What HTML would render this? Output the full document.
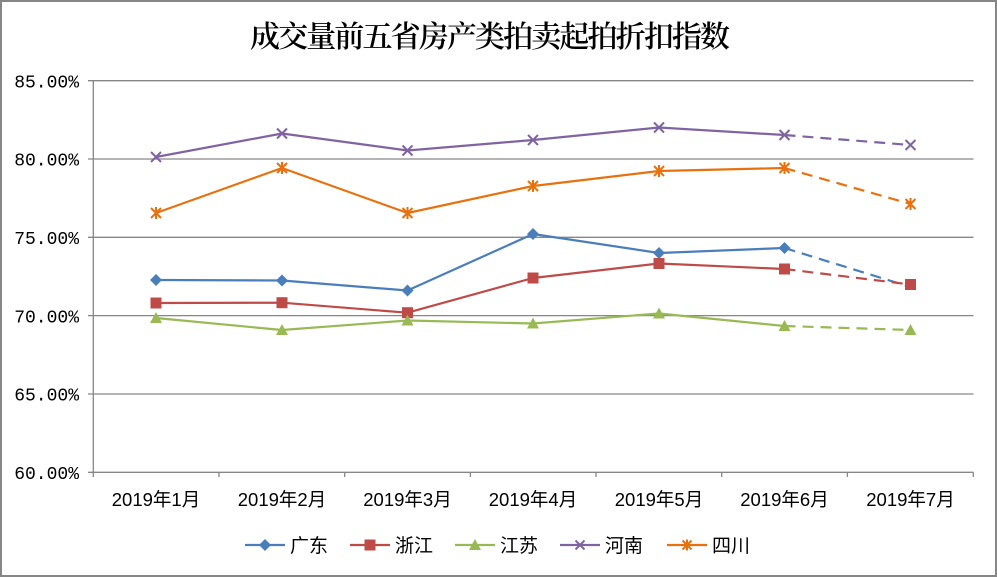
<!DOCTYPE html>
<html><head><meta charset="utf-8"><style>
html,body{margin:0;padding:0;background:#fff;}
svg{display:block;}
</style></head><body>
<svg width="997" height="577" viewBox="0 0 997 577" xmlns="http://www.w3.org/2000/svg">
<rect x="1" y="1" width="995" height="575" fill="#fff" stroke="#868686" stroke-width="2"/>
<text x="490" y="47" text-anchor="middle" font-family="'Liberation Serif','Noto Serif CJK SC',serif" font-weight="600" font-size="30" textLength="480" lengthAdjust="spacing" fill="#000">成交量前五省房产类拍卖起拍折扣指数</text>
<g stroke="#868686" stroke-width="1.3" fill="none">
<line x1="88" y1="80.7" x2="973.5" y2="80.7"/>
<line x1="88" y1="159" x2="973.5" y2="159"/>
<line x1="88" y1="237.3" x2="973.5" y2="237.3"/>
<line x1="88" y1="315.6" x2="973.5" y2="315.6"/>
<line x1="88" y1="394" x2="973.5" y2="394"/>
<line x1="88" y1="472.3" x2="973.5" y2="472.3"/>
<line x1="93.3" y1="80.7" x2="93.3" y2="477"/>
<line x1="219" y1="472.3" x2="219" y2="477"/>
<line x1="344.7" y1="472.3" x2="344.7" y2="477"/>
<line x1="470.4" y1="472.3" x2="470.4" y2="477"/>
<line x1="596" y1="472.3" x2="596" y2="477"/>
<line x1="721.7" y1="472.3" x2="721.7" y2="477"/>
<line x1="847.4" y1="472.3" x2="847.4" y2="477"/>
<line x1="973.3" y1="472.3" x2="973.3" y2="477"/>
</g>
<g font-family="'Liberation Mono',monospace" font-size="18" fill="#000" text-anchor="end">
<text x="79" y="87.5">85.00%</text>
<text x="79" y="165.5">80.00%</text>
<text x="79" y="244">75.00%</text>
<text x="79" y="322.5">70.00%</text>
<text x="79" y="400.5">65.00%</text>
<text x="79" y="479">60.00%</text>
</g>
<g font-family="'Liberation Sans','Noto Sans CJK SC',sans-serif" font-size="18.5" fill="#000" text-anchor="middle">
<text x="156" y="506">2019年1月</text>
<text x="282" y="506">2019年2月</text>
<text x="407.5" y="506">2019年3月</text>
<text x="533" y="506">2019年4月</text>
<text x="659" y="506">2019年5月</text>
<text x="784.5" y="506">2019年6月</text>
<text x="910.5" y="506">2019年7月</text>
</g>
<g fill="none" stroke-width="2.2" stroke-linejoin="round">
<polyline stroke="#8064A2" points="156,157 282,133.5 407.5,150.5 533,140 659,127.5 784.5,135"/>
<line stroke="#8064A2" x1="784.5" y1="135" x2="910.5" y2="145" stroke-dasharray="11 7"/>
<polyline stroke="#E8710E" points="156,213 282,168 407.5,213 533,186 659,171 784.5,168"/>
<line stroke="#E8710E" x1="784.5" y1="168" x2="910.5" y2="204" stroke-dasharray="11 7"/>
<polyline stroke="#4A7EBB" points="156,280 282,280.5 407.5,290.5 533,234 659,253 784.5,248"/>
<line stroke="#4A7EBB" x1="784.5" y1="248" x2="910.5" y2="287" stroke-dasharray="11 7"/>
<polyline stroke="#BE4B48" points="156,303 282,302.7 407.5,312.7 533,278 659,263.5 784.5,269"/>
<line stroke="#BE4B48" x1="784.5" y1="269" x2="910.5" y2="284.5" stroke-dasharray="11 7"/>
<polyline stroke="#98B954" points="156,318 282,330 407.5,320.5 533,323.5 659,313.5 784.5,326"/>
<line stroke="#98B954" x1="784.5" y1="326" x2="910.5" y2="330" stroke-dasharray="11 7"/>
</g>
<g stroke="#8064A2" stroke-width="2">
<path d="M151,152l10,10M161,152l-10,10 M277,128.5l10,10M287,128.5l-10,10 M402.5,145.5l10,10M412.5,145.5l-10,10 M528,135l10,10M538,135l-10,10 M654,122.5l10,10M664,122.5l-10,10 M779.5,130l10,10M789.5,130l-10,10 M905.5,140l10,10M915.5,140l-10,10"/>
</g>
<g stroke="#E8710E" stroke-width="2">
<path d="M151,208l10,10M161,208l-10,10M156,207v12 M277,163l10,10M287,163l-10,10M282,162v12 M402.5,208l10,10M412.5,208l-10,10M407.5,207v12 M528,181l10,10M538,181l-10,10M533,180v12 M654,166l10,10M664,166l-10,10M659,165v12 M779.5,163l10,10M789.5,163l-10,10M784.5,162v12 M905.5,199l10,10M915.5,199l-10,10M910.5,198v12"/>
</g>
<g fill="#4A7EBB">
<path d="M156,274l6,6l-6,6l-6,-6z"/>
<path d="M282,274.5l6,6l-6,6l-6,-6z"/>
<path d="M407.5,284.5l6,6l-6,6l-6,-6z"/>
<path d="M533,228l6,6l-6,6l-6,-6z"/>
<path d="M659,247l6,6l-6,6l-6,-6z"/>
<path d="M784.5,242l6,6l-6,6l-6,-6z"/>
</g>
<g fill="#BE4B48">
<rect x="150.5" y="297.5" width="11" height="11"/>
<rect x="276.5" y="297.2" width="11" height="11"/>
<rect x="402" y="307.2" width="11" height="11"/>
<rect x="527.5" y="272.5" width="11" height="11"/>
<rect x="653.5" y="258" width="11" height="11"/>
<rect x="779" y="263.5" width="11" height="11"/>
<rect x="905" y="279" width="11" height="11"/>
</g>
<g fill="#98B954">
<path d="M156,312l6,11h-12z"/>
<path d="M282,324l6,11h-12z"/>
<path d="M407.5,314.5l6,11h-12z"/>
<path d="M533,317.5l6,11h-12z"/>
<path d="M659,307.5l6,11h-12z"/>
<path d="M784.5,320l6,11h-12z"/>
<path d="M910.5,324l6,11h-12z"/>
</g>
<g stroke-width="2.2">
<line x1="245" y1="545" x2="285" y2="545" stroke="#4A7EBB"/>
<line x1="350" y1="545" x2="390" y2="545" stroke="#BE4B48"/>
<line x1="455" y1="545" x2="495" y2="545" stroke="#98B954"/>
<line x1="560" y1="545" x2="600" y2="545" stroke="#8064A2"/>
<line x1="667" y1="545" x2="707" y2="545" stroke="#E8710E"/>
</g>
<path d="M265,539l6,6l-6,6l-6,-6z" fill="#4A7EBB"/>
<rect x="364.5" y="539.5" width="11" height="11" fill="#BE4B48"/>
<path d="M475,539l6,11h-12z" fill="#98B954"/>
<path d="M575.5,540.5l9,9M584.5,540.5l-9,9" stroke="#8064A2" stroke-width="2"/>
<path d="M682.5,540.5l9,9M691.5,540.5l-9,9M687,539.5v11" stroke="#E8710E" stroke-width="2"/>
<g font-family="'Liberation Sans','Noto Sans CJK SC',sans-serif" font-size="19" fill="#000">
<text x="290" y="552">广东</text>
<text x="395" y="552">浙江</text>
<text x="500" y="552">江苏</text>
<text x="605" y="552">河南</text>
<text x="712" y="552">四川</text>
</g>
</svg>
</body></html>
